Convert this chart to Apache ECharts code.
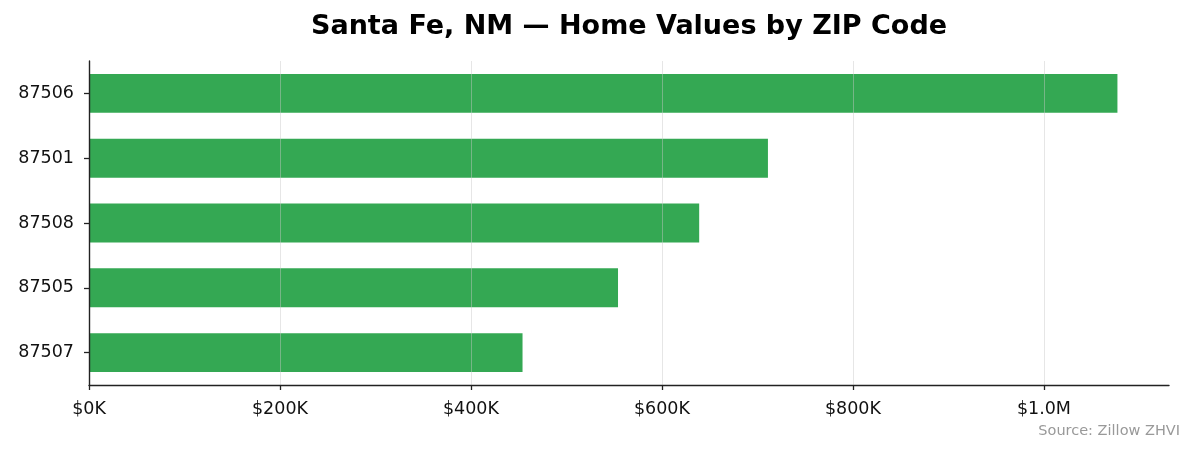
<!DOCTYPE html>
<html lang="en">
  <head>
    <meta charset="utf-8" />
    <title>Santa Fe Home Values</title>
    <script src="https://cdn.jsdelivr.net/npm/echarts@6/dist/echarts.min.js"></script>
    <style>
      html, body { margin: 0; padding: 0; background: #fff; }
      #main { width: 1194px; height: 455px; }
    </style>
  </head>
  <body>
    <div id="main"></div>
    <script type="text/javascript">
      // top-to-bottom order as shown
      const zips = ['87506', '87501', '87508', '87505', '87507'];
      const homeValues = [1077000, 711000, 639000, 554000, 454000];
      const xTicks = [0, 200000, 400000, 600000, 800000, 1000000];

      const font = 'DejaVu Sans';
      const chart = echarts.init(document.getElementById('main'));

      const fmt = (v) => {
        if (v >= 1000000) return '$' + (v / 1000000).toFixed(1) + 'M';
        return '$' + Math.round(v / 1000) + 'K';
      };

      const option = {
        animation: false,
        graphic: [{
          // title centred over the plot area, like the original
          type: 'text',
          x: 629,
          y: 27,
          style: {
            text: 'Santa Fe, NM \u2014 Home Values by ZIP Code',
            fontFamily: font, fontSize: 27, fontWeight: 'bold', fill: '#000',
            textAlign: 'center', textVerticalAlign: 'middle'
          }
        }, {
          type: 'text',
          right: 14,
          top: 424,
          style: { text: 'Source: Zillow ZHVI', fontFamily: font, fontSize: 14.5, fill: '#999' }
        }],
        grid: { left: 89, right: 25, top: 61, bottom: 70 },
        xAxis: {
          type: 'value',
          min: 0,
          max: 1131000,
          interval: 200000,
          z: 3,
          axisLine: { show: true, onZero: false, lineStyle: { color: '#222', width: 1.4 } },
          axisTick: { show: true, length: 5, lineStyle: { color: '#222', width: 1.3 } },
          axisLabel: {
            fontFamily: font, fontSize: 17.5, color: '#111', margin: 15,
            showMaxLabel: false,
            formatter: (v) => xTicks.indexOf(v) >= 0 ? fmt(v) : ''
          },
          splitLine: {
            show: true, showMinLine: false, showMaxLine: false,
            lineStyle: { color: 'rgba(200,200,200,0.45)', width: 1 }
          }
        },
        yAxis: {
          type: 'category',
          data: zips,
          inverse: true,
          z: 4,
          axisLine: { show: true, lineStyle: { color: '#222', width: 1.4 } },
          axisTick: { show: true, alignWithLabel: true, length: 5, lineStyle: { color: '#222', width: 1.3 } },
          axisLabel: { fontFamily: font, fontSize: 17.5, color: '#111', margin: 15 },
          splitLine: { show: false }
        },
        series: [{
          type: 'bar',
          data: homeValues,
          barWidth: '60%',
          itemStyle: { color: '#34a853' }
        }]
      };
      chart.setOption(option);
    </script>
  </body>
</html>
